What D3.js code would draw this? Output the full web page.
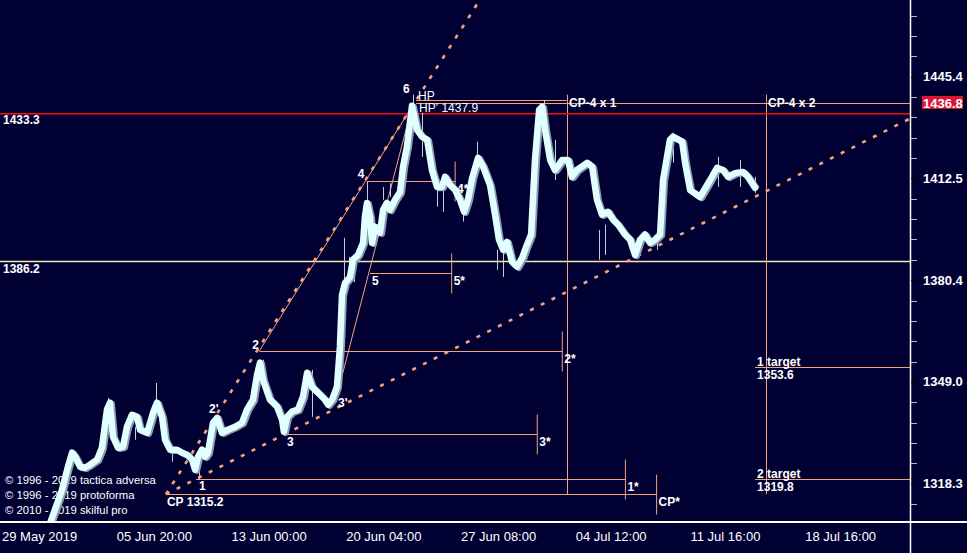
<!DOCTYPE html>
<html><head><meta charset="utf-8">
<script src="https://cdn.jsdelivr.net/npm/d3@7"></script>
<style>html,body{margin:0;padding:0;background:#000033;overflow:hidden}</style>
</head><body><svg id="c" width="967" height="553"></svg>
<script>
// ---------------- data ----------------
const xTickLabels = ["29 May 2019","05 Jun 20:00","13 Jun 00:00","20 Jun 04:00","27 Jun 08:00","04 Jul 12:00","11 Jul 16:00","18 Jul 16:00"];
const xTickIdx = [0,5,10,15,20,25,30,35];
const yTickValues = [1318.3,1349.0,1380.4,1412.5,1445.4];
const lastPrice = 1436.8;
const levelRed = 1433.3;
const levelCream = 1386.2;

// close-line (trading-day index, price)
const dayIdx = [
 2.05,2.70,2.96,3.14,3.27,3.49,3.70,3.92,4.23,4.44,
 4.66,4.79,4.92,5.14,5.36,5.53,5.75,5.97,6.10,6.41,
 6.67,6.84,7.06,7.19,7.41,7.71,7.93,8.15,8.37,8.50,
 8.63,8.80,8.93,9.06,9.28,9.46,9.67,9.93,10.24,10.54,
 10.76,11.02,11.20,11.33,11.46,11.76,12.07,12.29,12.37,12.51,
 12.72,12.98,13.20,13.38,13.59,13.86,14.16,14.29,14.47,14.68,
 14.81,14.90,15.03,15.25,15.38,15.60,15.82,15.90,15.99,16.12,
 16.21,16.34,16.56,16.69,16.86,16.99,17.21,17.43,17.56,17.73,
 17.95,18.17,18.39,18.61,18.82,19.04,19.26,19.39,19.61,19.83,
 20.04,20.22,20.39,20.57,20.83,21.05,21.35,21.57,21.74,21.92,
 22.09,22.31,22.53,22.75,22.96,23.14,23.31,23.49,23.62,23.75,
 23.97,24.18,24.49,24.75,24.92,25.14,25.58,25.80,26.01,26.23,
 26.49,26.71,26.93,27.23,27.45,27.67,27.89,28.10,28.32,28.54,
 28.76,28.89,29.19,29.32,29.72,29.85,30.07,30.50,30.94,31.24,
 31.50,31.72,32.03,32.37,32.59,32.90];
const price = [
 1304.1,1316.5,1323.4,1327.6,1326.4,1323.4,1323.1,1324.0,1325.5,1329.1,
 1340.6,1342.7,1332.4,1329.1,1329.4,1335.4,1339.0,1338.4,1334.5,1333.6,
 1339.7,1342.7,1338.4,1331.5,1328.5,1328.5,1327.6,1327.0,1325.5,1322.5,
 1326.4,1328.5,1326.4,1327.6,1336.6,1338.1,1333.6,1334.5,1335.4,1336.6,
 1340.6,1343.6,1351.2,1354.9,1349.6,1343.6,1341.5,1337.5,1333.9,1338.4,
 1340.0,1340.6,1344.5,1351.8,1347.5,1345.7,1343.6,1342.1,1343.6,1347.5,
 1359.8,1375.8,1379.5,1381.4,1386.8,1388.3,1392.1,1400.3,1404.7,1400.3,
 1392.1,1397.2,1395.3,1402.5,1404.7,1402.5,1405.7,1408.2,1416.2,1422.6,
 1435.9,1428.1,1425.9,1424.9,1415.2,1409.8,1409.8,1413.0,1410.4,1408.8,
 1405.7,1401.9,1405.7,1412.6,1419.1,1416.2,1410.4,1401.0,1393.1,1389.9,
 1392.4,1386.1,1384.6,1387.4,1391.5,1394.7,1418.4,1434.6,1435.6,1428.1,
 1418.4,1415.2,1418.4,1418.4,1413.0,1415.2,1417.5,1416.2,1405.7,1401.0,
 1401.9,1399.4,1397.8,1394.7,1393.1,1388.3,1393.1,1394.7,1392.1,1393.1,
 1394.7,1412.0,1424.9,1425.9,1424.3,1417.5,1408.8,1406.6,1412.0,1415.9,
 1415.2,1413.0,1414.2,1414.6,1413.0,1409.5];

// thin bar wicks
const wickIdx  = [4.71,6.80,5.88,7.49,8.67,11.46,12.42,13.59,14.99,15.21,15.42,15.99,16.69,16.99,18.00,18.39,19.04,19.30,20.17,20.78,21.66,21.92,23.70,24.18,25.93,26.10,26.36,28.63,29.32,31.29,32.24,32.90];
const wickHigh = [1344.2,1348.7,1335.4,1328.5,1324.0,1355.8,1337.5,1352.7,1393.7,1387.7,1386.1,1411.4,1409.8,1411.0,1439.5,1433.6,1409.8,1409.8,1401.9,1424.3,1389.9,1389.9,1437.8,1424.9,1415.9,1396.2,1397.8,1396.2,1427.2,1419.4,1418.4,1413.0];
const wickLow  = [1337.5,1340.6,1331.5,1324.9,1319.4,1348.7,1333.0,1338.4,1379.5,1379.8,1379.8,1405.7,1405.7,1406.6,1434.6,1419.4,1403.5,1401.9,1398.8,1419.4,1383.6,1381.4,1428.1,1412.0,1408.8,1386.8,1388.3,1389.9,1417.5,1409.8,1409.8,1407.9];

// wave points and their projection ends
const waveNames    = ["CP","1","2","3","4","5"];
const waveLabels   = ["CP 1315.2","1","2","3","4","5"];
const waveIdx      = [7.23,8.54,11.30,12.42,15.98,16.12];
const waveValue    = [1315.2,1319.8,1358.5,1333.2,1411.8,1382.6];
const waveEndIdx   = [28.61,27.25,24.50,23.41,19.83,19.68];
const waveEndLabels= ["CP*","1*","2*","3*","4*","5*"];

const point3pIdx = 14.60, point3pValue = 1342.7;   // 3'
const point6Idx  = 17.95, point6Value  = 1435.6;   // 6
const label2pIdx = 9.02,  label2pValue = 1339.7;   // 2'

const hpStartIdx = 18.13, hpEndIdx = 24.69, hpValue = 1437.9;
const cpLineIdx  = [24.69, 33.39];
const cpLineLabels = ["CP-4 x 1","CP-4 x 2"];
const cpLineTop = 1439.5;

const targetNames  = ["1 target","2 target"];
const targetValues = [1353.6,1319.8];
const targetStartIdx = 32.90;

const copyright = ["© 1996 - 2019 tactica adversa","© 1996 - 2019 protoforma","© 2010 - 2019 skilful pro"];

// ---------------- drawing ----------------
const W = 967, H = 553, plotR = 910, plotB = 522;
const svg = d3.select("#c");
const ORANGE = "#f5a27c", BG = "#000033";
svg.append("rect").attr("width",W).attr("height",H).attr("fill",BG);

const x = d3.scaleLinear().domain([0, 39.65]).range([0, plotR]);
const y = d3.scaleLog().domain([1318.3, 1445.4]).range([483.8, 76.6]);

const defs = svg.append("defs");
defs.append("clipPath").attr("id","plot").append("rect").attr("x",0).attr("y",0).attr("width",plotR).attr("height",plotB);

const g = svg.append("g").attr("clip-path","url(#plot)");
const boldFont = "'Liberation Sans', Arial, sans-serif";

// copyright text (under price)
g.selectAll("text.copy").data(copyright).enter().append("text")
  .attr("x",5).attr("y",(d,i)=>483.5+i*15)
  .attr("fill","#ffffff").attr("font-family",boldFont).attr("font-size",11.3).text(d=>d);

// level lines
g.append("line").attr("x1",0).attr("x2",plotR).attr("y1",y(levelCream)).attr("y2",y(levelCream))
  .attr("stroke","#fde3b0").attr("stroke-width",1.5);

// wave horizontal projections and end ticks
waveNames.forEach((n,i)=>{
  const yy = Math.round(y(waveValue[i]))+0.5;
  g.append("line").attr("x1",x(waveIdx[i])).attr("x2",x(waveEndIdx[i])).attr("y1",yy).attr("y2",yy)
    .attr("stroke",ORANGE).attr("stroke-width",1);
  g.append("line").attr("x1",x(waveEndIdx[i])).attr("x2",x(waveEndIdx[i])).attr("y1",yy-20).attr("y2",yy+20)
    .attr("stroke",ORANGE).attr("stroke-width",1);
});

// HP lines
const hpY = Math.round(y(hpValue))+0.5, lpY = Math.round(y(lastPrice))+0.5;
g.append("line").attr("x1",x(hpStartIdx)).attr("x2",x(hpEndIdx)).attr("y1",hpY).attr("y2",hpY).attr("stroke",ORANGE).attr("stroke-width",1);
g.append("line").attr("x1",x(hpStartIdx)).attr("x2",plotR).attr("y1",lpY).attr("y2",lpY).attr("stroke",ORANGE).attr("stroke-width",1);

// CP-4 vertical lines
cpLineIdx.forEach((d,i)=>{
  g.append("line").attr("x1",Math.round(x(d))+0.5).attr("x2",Math.round(x(d))+0.5)
    .attr("y1",y(cpLineTop)).attr("y2",y(waveValue[0])).attr("stroke",ORANGE).attr("stroke-width",1);
});

// target lines
targetValues.forEach(v=>{
  const yy = Math.round(y(v))+0.5;
  g.append("line").attr("x1",x(targetStartIdx)).attr("x2",plotR).attr("y1",yy).attr("y2",yy).attr("stroke",ORANGE).attr("stroke-width",1);
});

// fan lines (dotted) from CP through 6 and through 3
function extend(p0, p1, t){ return [p0[0]+(p1[0]-p0[0])*t, p0[1]+(p1[1]-p0[1])*t]; }
const pCP = [x(waveIdx[0]), y(waveValue[0])];
const p6  = [x(point6Idx), y(point6Value)];
const p3  = [x(waveIdx[3]), y(waveValue[3])];
const p2  = [x(waveIdx[2]), y(waveValue[2])];
const p3p = [x(point3pIdx), y(point3pValue)];
[[pCP,p6],[pCP,p3]].forEach(([a,b])=>{
  const e = extend(a,b,20);
  g.append("line").attr("x1",a[0]).attr("y1",a[1]).attr("x2",e[0]).attr("y2",e[1])
    .attr("stroke",ORANGE).attr("stroke-width",2.6).attr("stroke-dasharray","4,8");
});
// solid thin segments
[[p2,p6],[p3p,p6]].forEach(([a,b])=>{
  g.append("line").attr("x1",a[0]).attr("y1",a[1]).attr("x2",b[0]).attr("y2",b[1])
    .attr("stroke",ORANGE).attr("stroke-width",1);
});

// red level
g.append("line").attr("x1",0).attr("x2",plotR).attr("y1",y(levelRed)).attr("y2",y(levelRed))
  .attr("stroke","#ff0d0d").attr("stroke-width",1.6);

// wicks
g.selectAll("line.wick").data(wickIdx).enter().append("line")
  .attr("x1",d=>Math.round(x(d))+0.5).attr("x2",d=>Math.round(x(d))+0.5)
  .attr("y1",(d,i)=>y(wickHigh[i])).attr("y2",(d,i)=>y(wickLow[i]))
  .attr("stroke","#c4ccda").attr("stroke-width",1);

// price line (shadow + main)
const pts = dayIdx.map((d,i)=>[d,price[i]]);
const line = d3.line().x(d=>x(d[0])).y(d=>y(d[1]));
g.append("path").attr("d",line(pts)).attr("fill","none").attr("stroke","#8d9db3")
  .attr("stroke-width",6.5).attr("stroke-linejoin","round").attr("transform","translate(1.8,1)");
g.append("path").attr("d",line(pts)).attr("fill","none").attr("stroke","#e2ffff")
  .attr("stroke-width",6.5).attr("stroke-linejoin","round").attr("stroke-linecap","round");

// labels
function txt(xx,yy,s,opt={}){
  return svg.append("text").attr("x",xx).attr("y",yy).text(s)
    .attr("fill",opt.fill||"#ffffff").attr("font-family",opt.family||boldFont)
    .attr("font-size",opt.size||12).attr("font-weight",opt.weight||"bold");
}
const waveLabelOffset = [[1,11],[3,10],[-7,-3],[2,11],[-9,-4],[2,11]];
waveNames.forEach((n,i)=>{
  const px = x(waveIdx[i]), py = Math.round(y(waveValue[i]))+0.5;
  txt(px+waveLabelOffset[i][0], py+waveLabelOffset[i][1], waveLabels[i]);
  txt(x(waveEndIdx[i])+2, py+11, waveEndLabels[i]);
});
txt(x(label2pIdx)+2, y(label2pValue), "2'");
txt(p3p[0]+3, p3p[1]+4, "3'");
txt(p6[0]-9, p6[1]-14, "6");
txt(x(hpStartIdx)+2, hpY-1, "HP", {weight:"normal", size:12});
txt(x(hpStartIdx)+3, hpY+11.5, "HP' " + hpValue.toFixed(1), {weight:"normal", size:12});
cpLineIdx.forEach((d,i)=> txt(Math.round(x(d))+2, lpY+3, cpLineLabels[i]));
targetValues.forEach((v,i)=>{
  const yy = Math.round(y(v))+0.5;
  txt(x(targetStartIdx)+2, yy-1.5, targetNames[i]);
  txt(x(targetStartIdx)+2, yy+11, v.toFixed(1));
});
txt(3, y(levelRed)+10.5, levelRed.toFixed(1));
txt(3, y(levelCream)+11, levelCream.toFixed(1));

// axes
svg.append("line").attr("x1",plotR+0.5).attr("x2",plotR+0.5).attr("y1",0).attr("y2",H).attr("stroke","#ffffff").attr("stroke-width",1.5);
svg.append("line").attr("x1",0).attr("x2",W).attr("y1",plotB).attr("y2",plotB).attr("stroke","#ffffff").attr("stroke-width",2);

// right axis ticks
const yTop = y(yTickValues[yTickValues.length-1]), yBot = y(yTickValues[0]);
const step = (yBot - yTop) / ((yTickValues.length-1)*5);
for(let k=-4;k<=(yTickValues.length-1)*5+2;k++){
  const yy = Math.round(yTop + k*step)+0.5;
  if(yy<3 || yy>plotB-3) continue;
  const major = (k%5===0);
  svg.append("line").attr("x1",plotR+1).attr("x2",plotR+(major?11:7)).attr("y1",yy).attr("y2",yy)
    .attr("stroke",major?"#000000":"#b8b8c8").attr("stroke-width",1);
}
yTickValues.forEach(v=>{
  txt(923, y(v)+4.5, v.toFixed(1), {size:13});
});
// last price tag
const tagY = y(lastPrice);
svg.append("rect").attr("x",921.5).attr("y",tagY-7.5).attr("width",42).attr("height",14).attr("fill","#dc143c").attr("stroke","#000").attr("stroke-width",1);
txt(923, tagY+4.5, lastPrice.toFixed(1), {size:13});

// bottom axis ticks
for(let i=0;i<=39;i++){
  const xx = Math.round(x(i))+0.5;
  svg.append("line").attr("x1",xx).attr("x2",xx).attr("y1",plotB+1).attr("y2",plotB+5).attr("stroke","#000").attr("stroke-width",1);
}
xTickIdx.forEach((d,i)=>{
  txt(x(d)+2, 541, xTickLabels[i], {weight:"normal", size:13, family:"'Liberation Sans Narrow','Arial Narrow','Liberation Sans',sans-serif"});
});
</script></body></html>
